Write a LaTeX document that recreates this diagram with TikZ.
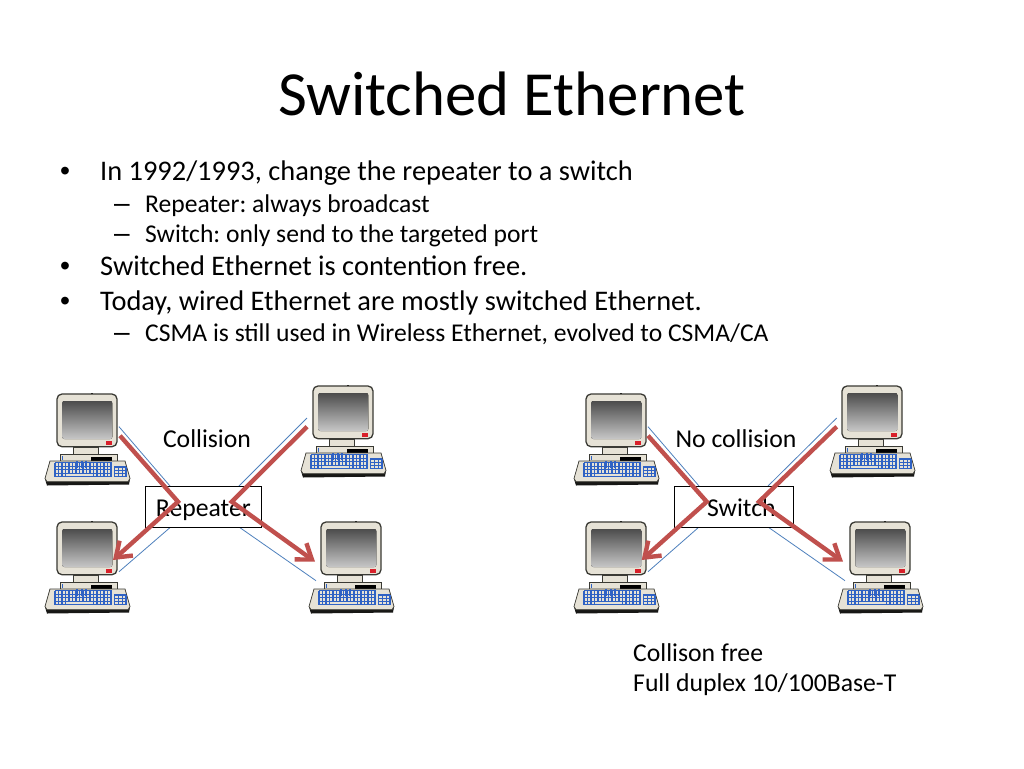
\documentclass[tikz,border=0pt]{standalone}
\usepackage{fontspec}
\setmainfont{Carlito}
\newfontfamily\markfont{Liberation Sans}
\usetikzlibrary{arrows.meta,calc}
\frenchspacing
\definecolor{casecol}{HTML}{E6E2D6}
\definecolor{edgecol}{HTML}{3A3A34}
\definecolor{keycol}{HTML}{2F62C4}
\definecolor{linkcol}{HTML}{4F81BD}
\definecolor{flowcol}{HTML}{C0504D}
\definecolor{lampcol}{HTML}{D8202A}
\newcommand{\fsz}[1]{\fontsize{#1}{#1}\selectfont}
\tikzset{
  titletext/.style={anchor=base,inner sep=0pt,font=\fsz{62.8}},
  bodytext/.style={anchor=base west,inner sep=0pt,font=\fsz{28.4}},
  bodymark/.style={anchor=base west,inner sep=0pt,font=\markfont\fsz{28.4}},
  subtext/.style={anchor=base west,inner sep=0pt,font=\fsz{25.6}},
  submark/.style={anchor=base west,inner sep=0pt,font=\markfont\fsz{28}},
  labeltext/.style={anchor=base,inner sep=0pt,font=\fsz{25.7}},
  notetext/.style={anchor=base west,inner sep=0pt,font=\fsz{25.7}},
  hubbox/.style={draw=black,line width=.7pt,fill=white,inner sep=0pt,anchor=north west,font=\fsz{25.7},text height=22pt,text depth=3pt},
  link/.style={draw=linkcol,line width=.8pt},
  flow/.style={draw=flowcol,line width=4.4pt,line join=miter,-{Straight Barb[length=14pt,width=20pt,line width=4.4pt]}},
  pics/computer/.style={code={
    % stand
    \fill[casecol,draw=edgecol,line width=.6pt] (16,53) rectangle (41,60);
    \fill[casecol,draw=edgecol,line width=.6pt] (3,60) rectangle (60,67);
    \fill[black] (34,62.5) rectangle (55,66.5);
    \fill[keycol] (5,62) rectangle (6,66);
    % monitor
    \fill[black] (34,-.8) rectangle (36,1);
    \draw[edgecol,line width=1.3pt,fill=casecol,rounded corners=5pt] (0,0) rectangle (60,52.7);
    \fill[top color=black!70,bottom color=black!22,rounded corners=2pt] (5.3,7) rectangle (55.3,45);
    \fill[lampcol] (49,47) rectangle (55,51);
    % keyboard
    \fill[black!90!casecol] (-12,85) -- (-7,67) -- (68,67) -- (73,85) -- (72,90.5) -- (-10,91.5) -- cycle;
    \draw[edgecol,line width=.7pt,fill=casecol] (-12,84.5) -- (-7,67) -- (68,67) -- (73,84.5) -- (71,87.7) -- (-10,87.7) -- cycle;
    % main keys
    \foreach \yy in {68.5,72.2,75.9,79.6,82.7}
      \draw[keycol,line width=1.1pt] (-2,\yy) -- (54.7,\yy);
    \foreach \xx in {-2,1.5,...,54.5}
      \draw[keycol,line width=1.1pt] (\xx,68.5) -- (\xx,82.7);
    \fill[keycol] (19,67) rectangle (21,74);
    \fill[keycol] (24,67) rectangle (26,74);
    \fill[keycol] (28,67) rectangle (30,74);
    \fill[casecol] (9,80.2) rectangle (36,82.1);
    % numeric keys
    \foreach \yy in {73,76.2,79.5,82.7}
      \draw[keycol,line width=1.1pt] (57.3,\yy) -- (69,\yy);
    \foreach \xx in {57.3,61.2,65.1,69}
      \draw[keycol,line width=1.1pt] (\xx,73) -- (\xx,82.7);
  }}
}
\begin{document}
\begin{tikzpicture}[x=1pt,y=-1pt]
\useasboundingbox (0,0) rectangle (1024,768);
\fill[white] (0,0) rectangle (1024,768);

\node[titletext] (title) at (512,115) {Switched Ethernet};
\node[bodymark] (b1m) at (60,180) {•};
\node[bodytext] (b1) at (100,180) {In 1992/1993, change the repeater to a switch};
\node[submark] (s1m) at (114,212) {–};
\node[subtext] (s1) at (145,212) {Repeater: always broadcast};
\node[submark] (s2m) at (114,242) {–};
\node[subtext] (s2) at (145,242) {Switch: only send to the targeted port};
\node[bodymark] (b2m) at (60,275) {•};
\node[bodytext] (b2) at (100,275) {Switched Ethernet is contention free.};
\node[bodymark] (b3m) at (60,310) {•};
\node[bodytext] (b3) at (100,310) {Today, wired Ethernet are mostly switched Ethernet.};
\node[submark] (s3m) at (114,341) {–};
\node[subtext] (s3) at (145,341) {CSMA is still used in Wireless Ethernet, evolved to CSMA/CA};

% computers
\pic (la) at (57,394) {computer};
\pic (lb) at (313,386) {computer};
\pic (lc) at (57,522) {computer};
\pic (ld) at (321,522) {computer};
\pic (ra) at (586,394) {computer};
\pic (rb) at (842,386) {computer};
\pic (rc) at (586,522) {computer};
\pic (rd) at (850,522) {computer};

% port coordinates, left
\coordinate (lap) at (119,426.7); \coordinate (lah) at (170,486);
\coordinate (lbp) at (307,418);   \coordinate (lbh) at (239,486);
\coordinate (lcp) at (119,571.7); \coordinate (lch) at (170.7,527);
\coordinate (ldp) at (316,580.7); \coordinate (ldh) at (239,527);
\coordinate (lfa) at (120,435.7); \coordinate (lfm) at (178,501.7); \coordinate (lfc) at (113,560);
\coordinate (lfb) at (307,426.7); \coordinate (lgm) at (231.7,501.7); \coordinate (lfd) at (315,561.7);
% port coordinates, right
\coordinate (rap) at (648,426.7); \coordinate (rah) at (699,486);
\coordinate (rbp) at (836.7,418); \coordinate (rbh) at (768,486);
\coordinate (rcp) at (648,571.7); \coordinate (rch) at (699,527);
\coordinate (rdp) at (845,580.7); \coordinate (rdh) at (768,527);
\coordinate (rfa) at (648,435.7); \coordinate (rfm) at (706.7,501.7); \coordinate (rfc) at (641.7,560);
\coordinate (rfb) at (836.7,426.7); \coordinate (rgm) at (759,501.7); \coordinate (rfd) at (843,561.7);

% thin links
\draw[link] (lap) -- (lah);
\draw[link] (lbp) -- (lbh);
\draw[link] (lcp) -- (lch);
\draw[link] (ldp) -- (ldh);
\draw[link] (rap) -- (rah);
\draw[link] (rbp) -- (rbh);
\draw[link] (rcp) -- (rch);
\draw[link] (rdp) -- (rdh);

% hubs
\node[hubbox,minimum width=116pt,minimum height=41pt] (rep) at (145,486) {Repeater};
\node[hubbox,minimum width=119pt,minimum height=41pt] (sw) at (674,486) {\hspace*{15pt}Switch};

% labels
\node[labeltext] (coll) at (207,447) {Collision};
\node[labeltext] (nocoll) at (736,447) {No collision};
\node[notetext] (n1) at (633,661) {Collison free};
\node[notetext] (n2) at (633,691) {Full duplex 10/100Base-T};

% flows
\draw[flow] (lfa) -- (lfm) -- (lfc);
\draw[flow] (lfb) -- (lgm) -- (lfd);
\draw[flow] (rfa) -- (rfm) -- (rfc);
\draw[flow] (rfb) -- (rgm) -- (rfd);
\end{tikzpicture}
\end{document}
